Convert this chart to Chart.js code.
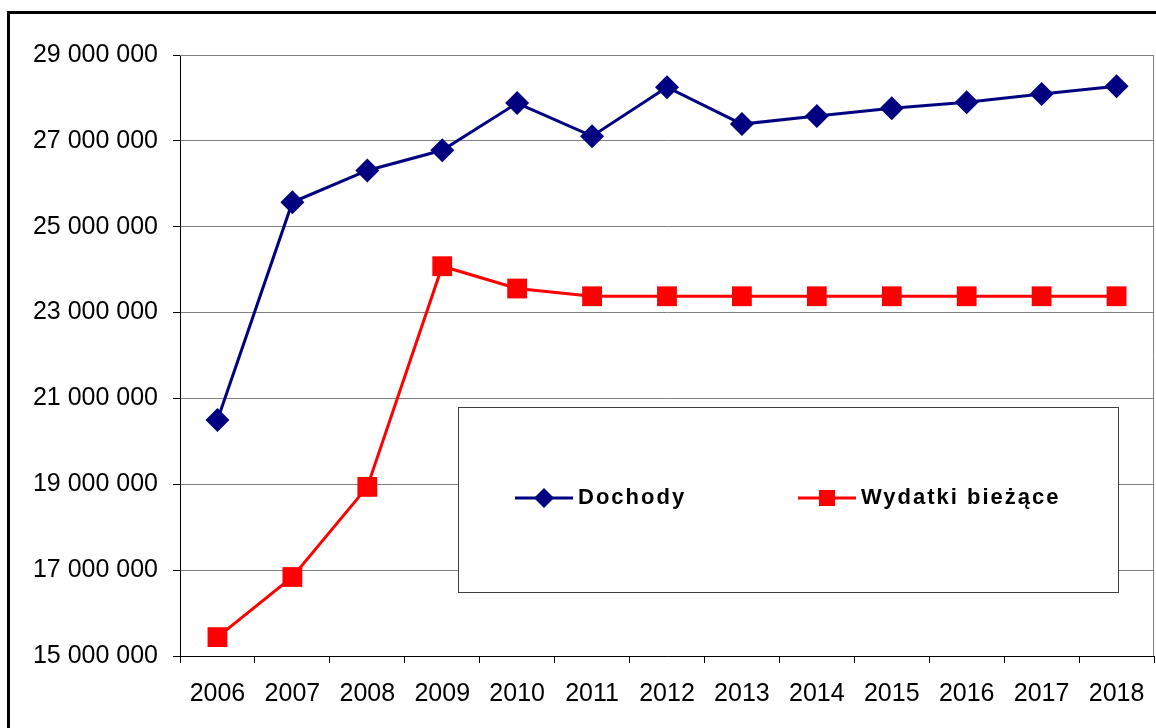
<!DOCTYPE html>
<html>
<head>
<meta charset="utf-8">
<script src="https://cdn.jsdelivr.net/npm/chart.js@4.4.1/dist/chart.umd.min.js"></script>
<style>
    html, body { margin: 0; padding: 0; background: #fff; }
    #frame {
        position: absolute; left: 7px; top: 11px;
        width: 1200px; height: 800px;
        border: 3px solid #000; box-sizing: border-box;
    }
    #wrap { position: absolute; left: 0; top: 0; width: 1156px; height: 728px; }
</style>
</head>
<body>
<div id="frame"></div>
<div id="wrap"><canvas id="chart" width="1156" height="728"></canvas></div>
<script>
// Dane
const years = ['2006', '2007', '2008', '2009', '2010', '2011', '2012', '2013', '2014', '2015', '2016', '2017', '2018'];
const dochody = [20500000, 25570000, 26310000, 26780000, 27880000, 27110000, 28250000, 27390000, 27580000, 27760000, 27900000, 28090000, 28270000];
const wydatki = [15440000, 16840000, 18940000, 24080000, 23560000, 23380000, 23380000, 23380000, 23380000, 23380000, 23380000, 23380000, 23380000];
const yMin = 15000000;
const yMax = 29000000;
const yStep = 2000000;

function formatNumber(v) {
    return String(v).replace(/\B(?=(\d{3})+(?!\d))/g, ' ');
}

// Ramka wokół obszaru wykresu (góra i prawa strona szare)
const plotBorder = {
    id: 'plotBorder',
    afterDraw(chart) {
        const { ctx, chartArea } = chart;
        ctx.save();
        ctx.strokeStyle = '#808080';
        ctx.lineWidth = 1;
        ctx.beginPath();
        ctx.moveTo(chartArea.left, chartArea.top + 0.5);
        ctx.lineTo(chartArea.right - 0.5, chartArea.top + 0.5);
        ctx.lineTo(chartArea.right - 0.5, chartArea.bottom);
        ctx.stroke();
        ctx.restore();
    }
};

// Legenda w ramce wewnątrz wykresu
const boxLegend = {
    id: 'boxLegend',
    afterDraw(chart) {
        const ctx = chart.ctx;
        ctx.save();
        ctx.fillStyle = '#fff';
        ctx.fillRect(458, 407, 660, 185);
        ctx.strokeStyle = '#404040';
        ctx.lineWidth = 1;
        ctx.strokeRect(458.5, 407.5, 660, 185);

        const items = [
            { x: 515, ds: chart.data.datasets[0] },
            { x: 798, ds: chart.data.datasets[1] }
        ];
        const y = 498;
        items.forEach(item => {
            const ds = item.ds;
            ctx.strokeStyle = ds.borderColor;
            ctx.lineWidth = 3;
            ctx.beginPath();
            ctx.moveTo(item.x, y);
            ctx.lineTo(item.x + 58, y);
            ctx.stroke();
            ctx.fillStyle = ds.backgroundColor;
            const cx = item.x + 29;
            if (ds.pointStyle === 'rectRot') {
                ctx.beginPath();
                ctx.moveTo(cx, y - 10);
                ctx.lineTo(cx + 10, y);
                ctx.lineTo(cx, y + 10);
                ctx.lineTo(cx - 10, y);
                ctx.closePath();
                ctx.fill();
            } else {
                ctx.fillRect(cx - 8, y - 8, 16, 16);
            }
            ctx.fillStyle = '#000';
            ctx.font = 'bold 22px "Liberation Sans", Arial, sans-serif';
            ctx.letterSpacing = '2px';
            ctx.textBaseline = 'middle';
            ctx.textAlign = 'left';
            ctx.fillText(ds.label, item.x + 63, y);
            ctx.letterSpacing = '0px';
        });
        ctx.restore();
    }
};

const ctx = document.getElementById('chart').getContext('2d');
new Chart(ctx, {
    type: 'line',
    data: {
        labels: years,
        datasets: [
            {
                label: 'Dochody',
                data: dochody,
                borderColor: '#000080',
                backgroundColor: '#000080',
                borderWidth: 3,
                pointStyle: 'rectRot',
                pointRadius: 12,
                pointBorderWidth: 0,
                tension: 0
            },
            {
                label: 'Wydatki bieżące',
                data: wydatki,
                borderColor: '#ff0000',
                backgroundColor: '#ff0000',
                borderWidth: 3,
                pointStyle: 'rect',
                pointRadius: 14,
                pointBorderWidth: 0,
                tension: 0
            }
        ]
    },
    options: {
        responsive: false,
        animation: false,
        layout: { autoPadding: false, padding: { top: 55, right: 2, bottom: 3, left: 0 } },
        plugins: {
            legend: { display: false },
            tooltip: { enabled: false }
        },
        scales: {
            y: {
                min: yMin,
                max: yMax,
                afterFit(scale) { scale.width = 180; },
                ticks: {
                    stepSize: yStep,
                    color: '#000',
                    padding: 15,
                    font: { family: '"Liberation Sans", Arial, sans-serif', size: 25 },
                    callback: v => formatNumber(v)
                },
                grid: { color: '#808080', tickColor: '#000', tickLength: 7 },
                border: { color: '#000', width: 1 }
            },
            x: {
                offset: true,
                afterFit(scale) { scale.paddingRight = 0; scale.paddingLeft = 0; },
                ticks: {
                    color: '#000',
                    padding: 16,
                    maxRotation: 0,
                    font: { family: '"Liberation Sans", Arial, sans-serif', size: 25 }
                },
                grid: { offset: true, drawOnChartArea: false, tickColor: '#000', tickLength: 7 },
                border: { color: '#000', width: 1 }
            }
        }
    },
    plugins: [plotBorder, boxLegend]
});
</script>
</body>
</html>
